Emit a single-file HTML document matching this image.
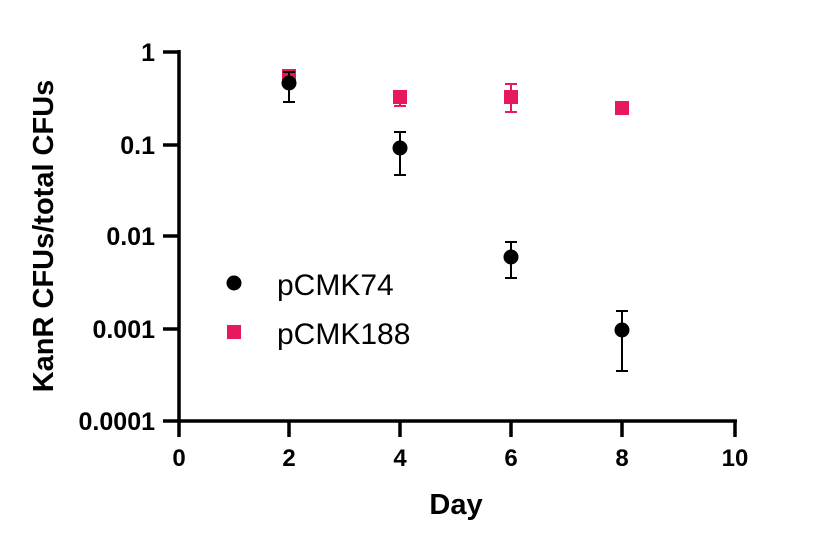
<!DOCTYPE html>
<html><head><style>body{margin:0;background:#fff}</style></head><body>
<svg width="823" height="547" xmlns="http://www.w3.org/2000/svg" font-family="Liberation Sans, Arial, sans-serif">
<g stroke="#000" stroke-width="3.5" fill="none">
<line x1="179" y1="50" x2="179" y2="423"/>
<line x1="177" y1="421" x2="737" y2="421"/>
<line x1="163" y1="52" x2="179" y2="52"/>
<line x1="163" y1="145" x2="179" y2="145"/>
<line x1="163" y1="236" x2="179" y2="236"/>
<line x1="163" y1="329" x2="179" y2="329"/>
<line x1="163" y1="421" x2="179" y2="421"/>
<line x1="179" y1="421" x2="179" y2="437"/>
<line x1="289" y1="421" x2="289" y2="437"/>
<line x1="400" y1="421" x2="400" y2="437"/>
<line x1="511" y1="421" x2="511" y2="437"/>
<line x1="622" y1="421" x2="622" y2="437"/>
<line x1="735" y1="421" x2="735" y2="437"/>
</g>
<g font-size="25" font-weight="bold" text-anchor="end">
<text x="155" y="61">1</text>
<text x="155" y="154">0.1</text>
<text x="155" y="245">0.01</text>
<text x="155" y="338">0.001</text>
<text x="155" y="430">0.0001</text>
</g>
<g font-size="24" font-weight="bold" text-anchor="middle">
<text x="179" y="466">0</text><text x="289" y="466">2</text><text x="400" y="466">4</text>
<text x="511" y="466">6</text><text x="622" y="466">8</text><text x="735" y="466">10</text>
<text x="456" y="514" font-size="29">Day</text>
<text transform="translate(53,236) rotate(-90)" font-size="29">KanR CFUs/total CFUs</text>
</g>
<g stroke="#e8185e" stroke-width="2" fill="#e8185e">
<line x1="283" y1="72" x2="295" y2="72"/>
<line x1="394" y1="106" x2="406" y2="106"/><line x1="400" y1="97" x2="400" y2="106"/>
<line x1="505" y1="84" x2="517" y2="84"/><line x1="505" y1="112" x2="517" y2="112"/><line x1="511" y1="84" x2="511" y2="112"/>
</g>
<g fill="#e8185e">
<rect x="282" y="69" width="14" height="14"/>
<rect x="393" y="90" width="14" height="14"/>
<rect x="504" y="90" width="14" height="14"/>
<rect x="615" y="101" width="14" height="14"/>
<rect x="227" y="325" width="14" height="14"/>
</g>
<g stroke="#000" stroke-width="2">
<line x1="289" y1="72" x2="289" y2="102"/><line x1="283" y1="72" x2="295" y2="72"/><line x1="283" y1="102" x2="295" y2="102"/>
<line x1="400" y1="132" x2="400" y2="175"/><line x1="394" y1="132" x2="406" y2="132"/><line x1="394" y1="175" x2="406" y2="175"/>
<line x1="511" y1="242" x2="511" y2="278"/><line x1="505" y1="242" x2="517" y2="242"/><line x1="505" y1="278" x2="517" y2="278"/>
<line x1="622" y1="311" x2="622" y2="371"/><line x1="616" y1="311" x2="628" y2="311"/><line x1="616" y1="371" x2="628" y2="371"/>
</g>
<g fill="#000">
<circle cx="289" cy="83" r="7.5"/><circle cx="400" cy="148" r="7.5"/>
<circle cx="511" cy="257" r="7.5"/><circle cx="622" cy="330" r="7.5"/>
<circle cx="234" cy="283" r="7.5"/>
</g>
<g font-size="30">
<text x="277" y="295">pCMK74</text>
<text x="277" y="344">pCMK188</text>
</g>
</svg>
</body></html>
